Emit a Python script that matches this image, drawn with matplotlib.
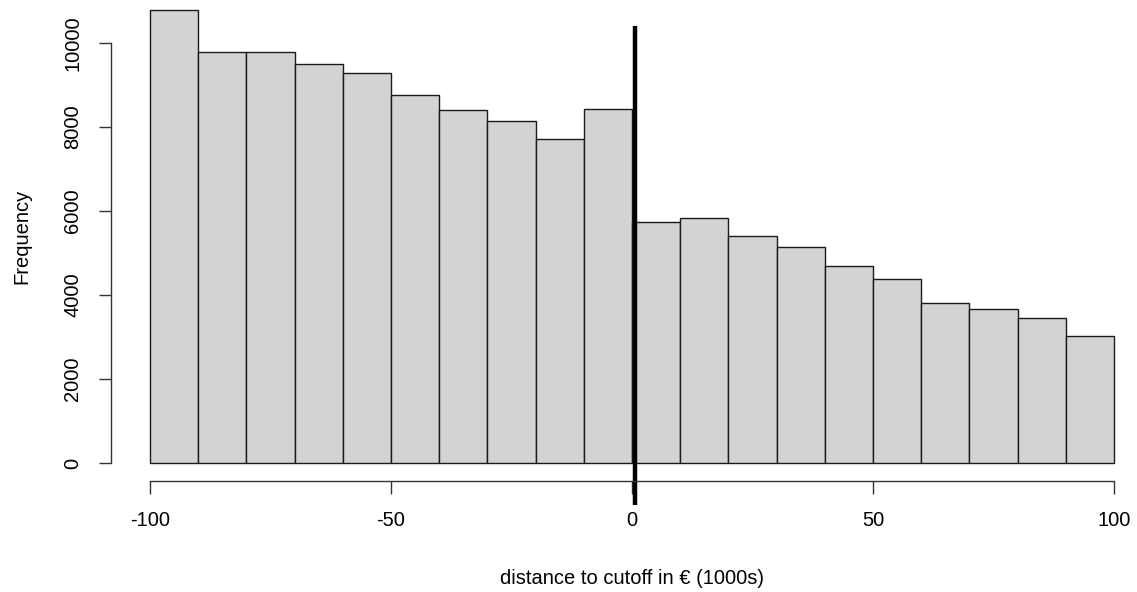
import matplotlib.pyplot as plt
import numpy as np

plt.rcParams['font.family'] = ['Liberation Sans', 'DejaVu Sans']

# histogram bins (distance to cutoff, 1000s of euro) and counts
bin_edges = np.arange(-100, 101, 10)
counts = [10780, 9790, 9790, 9505, 9285, 8760, 8405, 8135, 7715, 8435,
          5735, 5830, 5400, 5145, 4690, 4390, 3805, 3680, 3455, 3030]
xticks = [-100, -50, 0, 50, 100]
yticks = [0, 2000, 4000, 6000, 8000, 10000]

# cutoff marker line
cut_x = 0.7
cut_y = (-990, 10400)

fig = plt.figure(figsize=(11.37, 5.92), dpi=100)
ax = fig.add_axes([0.098, 0.1868, 0.9157, 0.8264])

ax.bar(bin_edges[:-1], counts, width=np.diff(bin_edges), align='edge',
       color='#d3d3d3', edgecolor='#1a1a1a', linewidth=1.0)
ax.plot([cut_x, cut_x], cut_y, color='black', linewidth=3.2,
        clip_on=False, solid_capstyle='butt')

ax.set_xlim(-108, 108)
ax.set_ylim(-431, 11208)

for s in ['top', 'right']:
    ax.spines[s].set_visible(False)
ax.spines['left'].set_bounds(0, 10000)
ax.spines['bottom'].set_bounds(-100, 100)
for s in ['left', 'bottom']:
    ax.spines[s].set_color('#333333')
    ax.spines[s].set_linewidth(1.0)

ax.set_xticks(xticks)
ax.set_xticklabels([str(v) for v in xticks])
ax.set_yticks(yticks)
ax.set_yticklabels([str(v) for v in yticks], rotation=90, va='center')
ax.tick_params(axis='both', length=9, width=1.0, color='#333333',
               labelsize=14.5, pad=12)

fig.text(0.556, 0.023, 'distance to cutoff in € (1000s)', ha='center',
         va='center', fontsize=14.5)
fig.text(0.019, 0.60, 'Frequency', ha='center', va='center',
         rotation=90, fontsize=14.5)

fig.savefig('out.png', dpi=100)
